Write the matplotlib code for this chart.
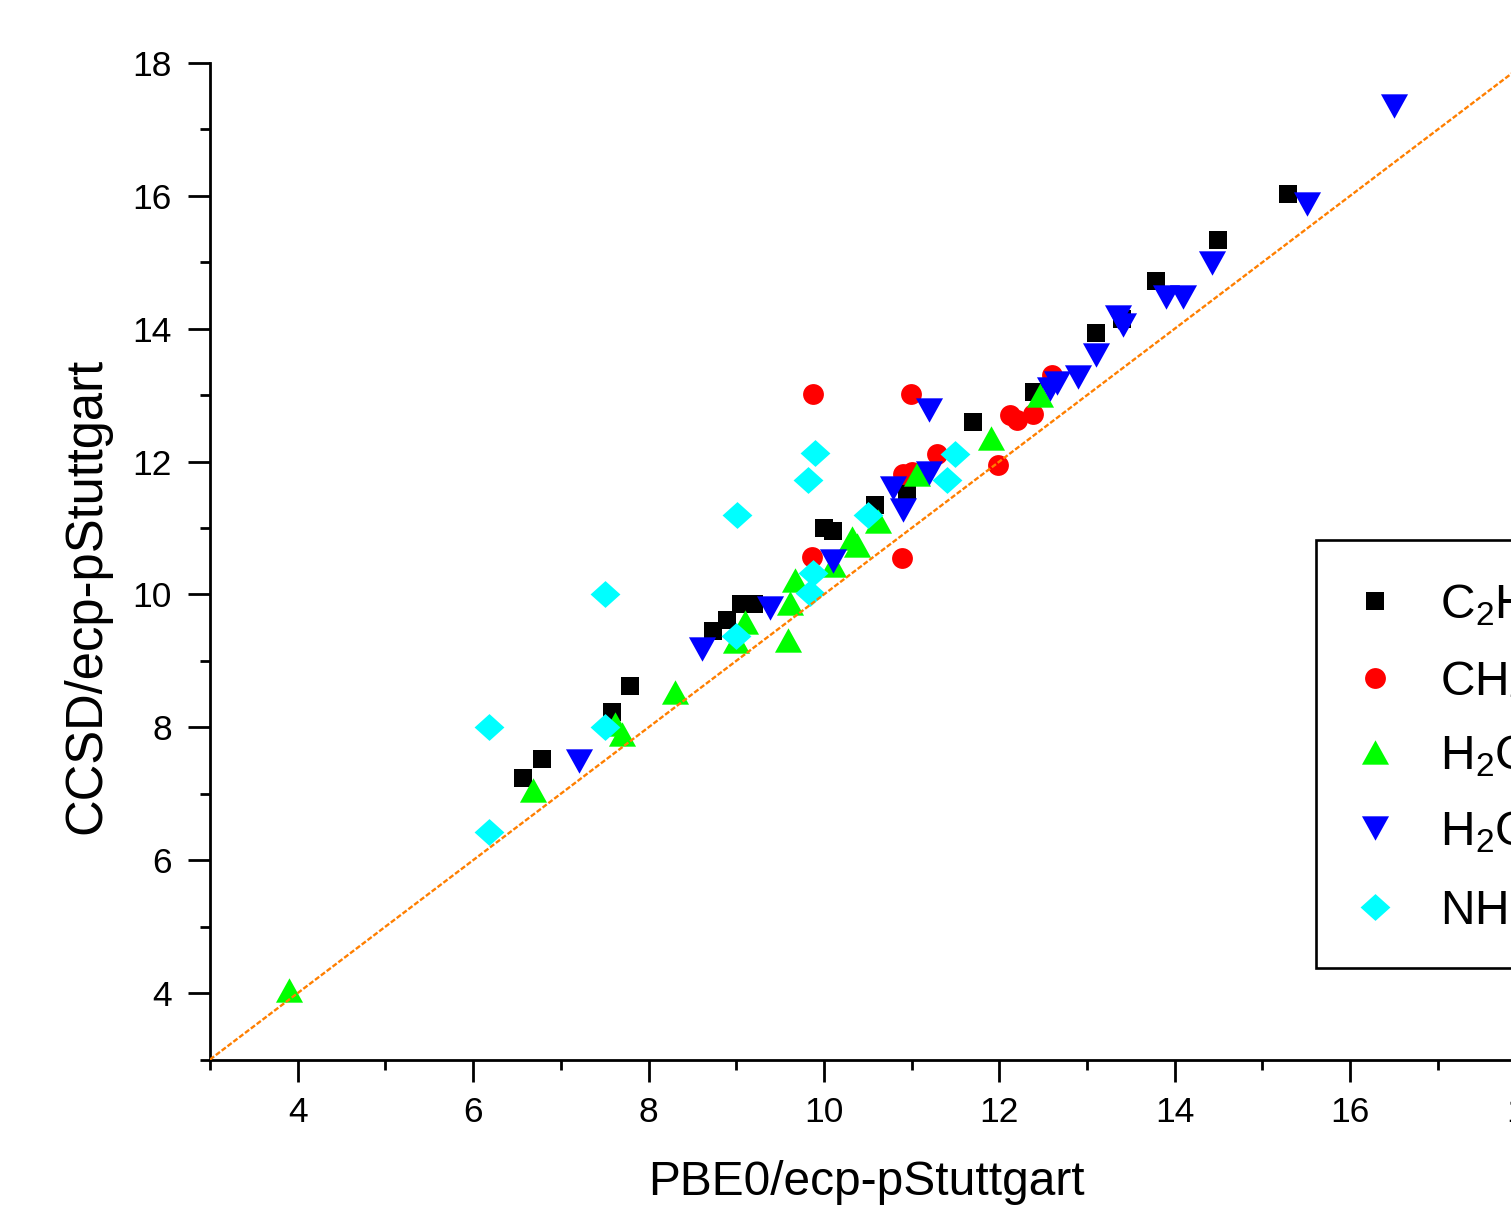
import matplotlib
matplotlib.use("Agg")
import matplotlib.pyplot as plt
from matplotlib.lines import Line2D
from matplotlib.patches import Rectangle
from matplotlib.ticker import MultipleLocator

plt.rcParams['font.family'] = ['Liberation Sans', 'DejaVu Sans']
plt.rcParams['mathtext.fontset'] = 'custom'
plt.rcParams['mathtext.rm'] = 'Liberation Sans'

# ---------------- data ----------------
labels = [r'C$_\mathregular{2}$H$_\mathregular{4}$', r'CH$_\mathregular{4}$',
          r'H$_\mathregular{2}$CO', r'H$_\mathregular{2}$CS', r'NH$_\mathregular{3}$']

c2h_x = [6.57, 6.79, 7.58, 7.79, 8.74, 8.90, 9.05, 9.20, 10.00, 10.10, 10.58, 10.95,
         11.70, 12.40, 13.10, 13.40, 13.79, 14.49, 15.29]
c2h_y = [7.24, 7.52, 8.23, 8.62, 9.45, 9.62, 9.85, 9.85, 11.00, 10.95, 11.35, 11.57,
         12.60, 13.05, 13.93, 14.15, 14.72, 15.33, 16.03]

ch_x = [9.88, 10.99, 9.86, 10.89, 10.90, 11.00, 11.29, 11.98, 12.12, 12.20, 12.38, 12.60]
ch_y = [13.02, 13.02, 10.56, 10.55, 11.82, 11.85, 12.12, 11.95, 12.70, 12.62, 12.72, 13.30]

h2c_a_x = [3.90, 6.68, 7.62, 7.70, 8.30, 9.00, 9.10, 9.59, 9.61, 9.67, 10.10, 10.32,
           10.38, 10.62, 11.06, 11.90, 12.46]
h2c_a_y = [4.05, 7.05, 8.05, 7.90, 8.53, 9.30, 9.58, 9.31, 9.87, 10.22, 10.44, 10.85,
           10.75, 11.10, 11.82, 12.36, 13.00]

h2c_b_x = [7.21, 8.61, 9.38, 10.10, 10.79, 10.90, 11.20, 11.20, 12.58, 12.66, 12.90,
           13.10, 13.35, 13.41, 13.90, 14.10, 14.42, 15.51, 16.50]
h2c_b_y = [7.50, 9.18, 9.80, 10.50, 11.60, 11.27, 11.83, 12.78, 13.10, 13.18, 13.28,
           13.60, 14.18, 14.05, 14.48, 14.48, 14.99, 15.88, 17.35]

nh_x = [6.18, 6.18, 7.50, 7.50, 9.00, 9.01, 9.82, 9.90, 9.84, 9.88, 10.50, 11.40, 11.50]
nh_y = [6.42, 8.00, 8.00, 10.00, 9.38, 11.19, 11.72, 12.13, 10.02, 10.32, 11.20, 11.72, 12.12]

ref_line = [3, 18]

# ---------------- styles ----------------
W, H = 1511, 1205
fig = plt.figure(figsize=(W / 100, H / 100), dpi=100)
fig.patch.set_facecolor('white')

def fx(px):
    return px / W

def fy(py):
    return 1 - py / H

ax = fig.add_axes([fx(210), fy(1059.5), (1525.5 - 210) / W, (1059.5 - 63) / H])

tri_up = [(-1, -0.9), (1, -0.9), (0, 0.9)]
tri_dn = [(-1, 0.9), (1, 0.9), (0, -0.9)]
diamond = [(0, 0.9), (1, 0), (0, -0.9), (-1, 0)]

series = [
    (c2h_x, c2h_y, 's', 13, '#000000'),
    (ch_x, ch_y, 'o', 15, '#FF0000'),
    (h2c_a_x, h2c_a_y, tri_up, 19.5, '#00FF00'),
    (h2c_b_x, h2c_b_y, tri_dn, 19.5, '#0000FF'),
    (nh_x, nh_y, diamond, 21.5, '#00FFFF'),
]

for xs, ys, mk, ms, col in series:
    ax.plot(xs, ys, linestyle='none', marker=mk, markersize=ms, color=col,
            markeredgewidth=0, zorder=3, clip_on=False)

ax.plot(ref_line, ref_line, color='#FF7F00', lw=1.7, linestyle=(0, (2.2, 0.9)), zorder=4)

ax.set_xlim(3, 18)
ax.set_ylim(3, 18)
for s in ['top', 'right']:
    ax.spines[s].set_visible(False)
for s in ['left', 'bottom']:
    ax.spines[s].set_linewidth(2.0)

ax.xaxis.set_minor_locator(MultipleLocator(1))
ax.yaxis.set_minor_locator(MultipleLocator(1))
ax.set_xticks([4, 6, 8, 10, 12, 14, 16, 18])
ax.set_yticks([4, 6, 8, 10, 12, 14, 16, 18])
ax.tick_params(which='major', direction='out', length=15.5, width=2.0, labelsize=25.5)
ax.tick_params(which='minor', direction='out', length=7.5, width=2.0)
ax.tick_params(axis='x', which='major', pad=11)
ax.tick_params(axis='y', which='major', pad=12)

fig.text(fx(866.5), fy(1195), 'PBE0/ecp-pStuttgart', fontsize=34.5,
         ha='center', va='baseline')
fig.text(fx(100), fy(596), 'CCSD/ecp-pStuttgart', fontsize=36.5, rotation=90,
         rotation_mode='anchor', ha='center', va='baseline')

# ---------------- legend ----------------
box = Rectangle((fx(1316), fy(968)), fx(1750) - fx(1316), (968 - 540) / H,
                transform=fig.transFigure, facecolor='white', edgecolor='black',
                linewidth=1.9, zorder=5)
fig.add_artist(box)
rows = [601, 678, 752, 828, 907]
for (xs, ys, mk, ms, col), lab, ry in zip(series, labels, rows):
    fig.add_artist(Line2D([fx(1375)], [fy(ry)], transform=fig.transFigure,
                          linestyle='none', marker=mk, markersize=ms, color=col,
                          markeredgewidth=0, zorder=6))
    fig.text(fx(1440), fy(ry + 17), lab, fontsize=34.5, ha='left', va='baseline',
             zorder=6)

fig.savefig('out.png', dpi=100)
